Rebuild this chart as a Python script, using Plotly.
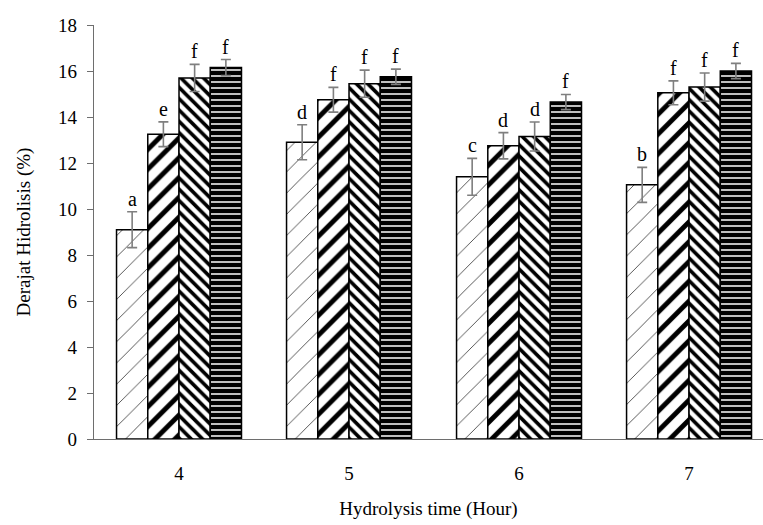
import plotly.graph_objects as go

categories = ["4", "5", "6", "7"]
series1 = [9.1, 12.9, 11.4, 11.05]
series2 = [13.25, 14.75, 12.75, 15.05]
series3 = [15.7, 15.45, 13.15, 15.3]
series4 = [16.15, 15.75, 14.65, 16.0]
err1 = [0.78, 0.76, 0.80, 0.76]
err2 = [0.54, 0.54, 0.57, 0.52]
err3 = [0.59, 0.59, 0.63, 0.61]
err4 = [0.35, 0.33, 0.33, 0.33]
letters1 = ["a", "d", "c", "b"]
letters2 = ["e", "f", "d", "f"]
letters3 = ["f", "f", "d", "f"]
letters4 = ["f", "f", "f", "f"]

xpos = list(range(len(categories)))
FONT = "Liberation Serif"
AX = "#6e6e6e"

series = [series1, series2, series3, series4]
errs = [err1, err2, err3, err4]
letters = [letters1, letters2, letters3, letters4]
patterns = [
    dict(shape="/", fgcolor="#222222", bgcolor="white", size=15, solidity=0.05, fgopacity=1),
    dict(shape="/", fgcolor="black", bgcolor="white", size=14, solidity=0.35, fgopacity=1),
    dict(shape="\\", fgcolor="black", bgcolor="white", size=8, solidity=0.45, fgopacity=1),
    dict(shape="-", fgcolor="white", bgcolor="black", size=6, solidity=0.25, fgopacity=1),
]

bargap = 0.265
fig = go.Figure()
for k in range(4):
    fig.add_trace(go.Bar(
        x=xpos, y=series[k],
        marker=dict(color="white" if k < 3 else "black",
                    pattern=patterns[k],
                    line=dict(color="black", width=1.5)),
        error_y=dict(type="data", array=errs[k], color="#7f7f7f",
                     thickness=1.6, width=5),
        showlegend=False, hoverinfo="skip",
    ))

bw = (1 - bargap) / 4
annotations = []
for k in range(4):
    off = (k - 1.5) * bw
    for i in range(len(categories)):
        annotations.append(dict(
            x=xpos[i] + off, y=series[k][i] + errs[k][i],
            text=letters[k][i], showarrow=False, yanchor="bottom",
            yshift=0, font=dict(family=FONT, size=20, color="black")))

fig.update_layout(
    width=763, height=525,
    margin=dict(l=94, r=0, t=25, b=86),
    plot_bgcolor="white", paper_bgcolor="white",
    barmode="group", bargap=bargap, bargroupgap=0,
    font=dict(family=FONT, size=19, color="black"),
    annotations=annotations,
    xaxis=dict(range=[-0.5, 3.435], tickmode="array", tickvals=xpos,
               ticktext=categories, showline=True, linecolor=AX,
               linewidth=1.2, ticks="", showgrid=False, zeroline=False,
               ticklabelstandoff=17,
               title=dict(text="Hydrolysis time (Hour)", standoff=18,
                          font=dict(family=FONT, size=19))),
    yaxis=dict(range=[0, 18], dtick=2, showline=True, linecolor=AX,
               linewidth=1.2, ticks="outside", ticklen=6, tickcolor=AX,
               showgrid=False, zeroline=False, ticklabelstandoff=6,
               title=dict(text="Derajat Hidrolisis (%)", standoff=22,
                          font=dict(family=FONT, size=19))),
)

fig.write_html("out.html", config={"displayModeBar": False},
               post_script="document.body.style.margin='0';document.body.style.overflow='hidden';")
